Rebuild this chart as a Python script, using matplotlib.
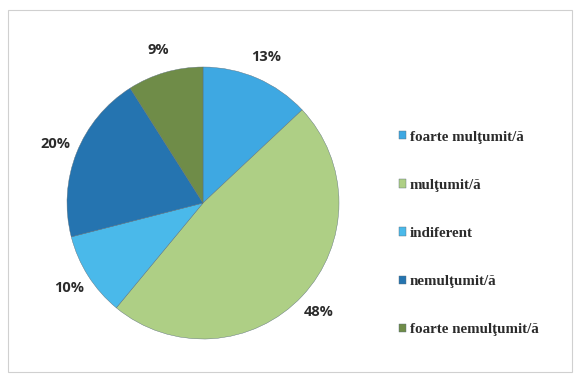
import matplotlib
matplotlib.use("Agg")
import matplotlib.pyplot as plt
from matplotlib.patches import Rectangle

categories = ["foarte mulţumit/ă", "mulţumit/ă", "indiferent", "nemulţumit/ă", "foarte nemulţumit/ă"]
shares = [13, 48, 10, 20, 9]
colors = ["#3EA8E2", "#AECF85", "#4AB9EA", "#2574B0", "#6F8C48"]

W, H = 580, 380
fig = plt.figure(figsize=(W / 100, H / 100), dpi=100)
fig.patch.set_facecolor("white")

# light frame round the chart area
fig.patches.append(Rectangle((8 / W, 8 / H), 564 / W, 362 / H, transform=fig.transFigure,
                             facecolor="none", edgecolor="#D0D0D0", linewidth=0.8))

# pie centre (203, 203) px from top-left, radius 136 px
cx, cy, r = 203, 203, 136
ax = fig.add_axes([(cx - r) / W, (H - cy - r) / H, 2 * r / W, 2 * r / H])
wedges, _, autotexts = ax.pie(
    shares, colors=colors, startangle=90, counterclock=False,
    autopct="%d%%", pctdistance=1.17, labels=None,
    wedgeprops=dict(edgecolor="#5A6E7A", linewidth=0.3),
    textprops=dict(fontsize=10.5, fontweight="bold", color="#2B2B2B", family="Open Sans"),
)
ax.set_xlim(-1, 1)
ax.set_ylim(-1, 1)
ax.set_aspect("equal")
ax.axis("off")

leg = fig.legend(
    wedges, categories, loc="upper left", bbox_to_anchor=(385 / W, 1 - 117 / H),
    frameon=False, handlelength=0.5, handleheight=0.5, handletextpad=0.25,
    labelspacing=2.35, prop=dict(family="Liberation Serif", weight="bold", size=10.8),
)
for t in leg.get_texts():
    t.set_color("#2B2B2B")

fig.savefig("out.png", dpi=100, facecolor="white")
